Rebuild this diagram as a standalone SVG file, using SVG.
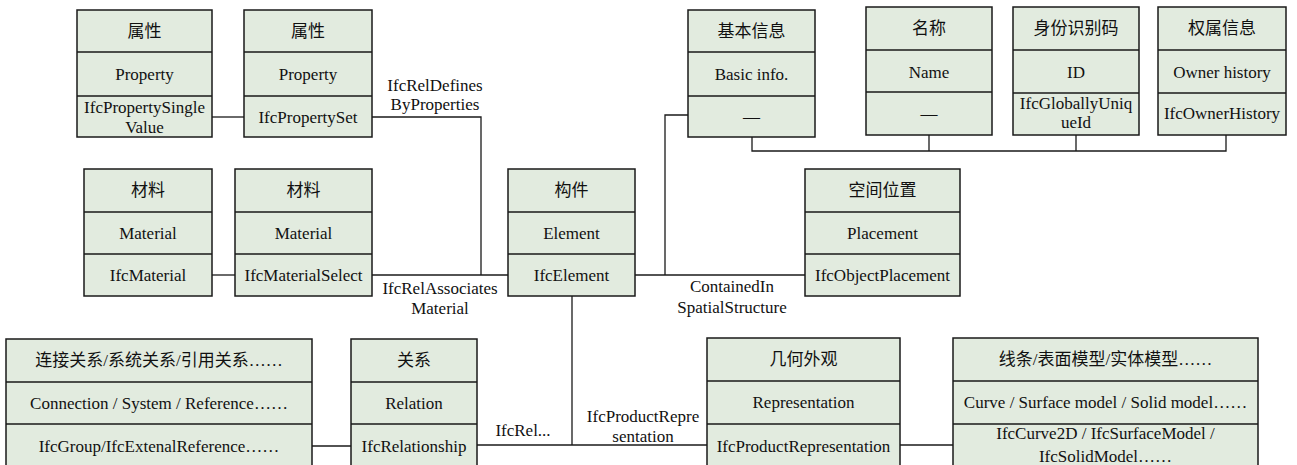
<svg xmlns="http://www.w3.org/2000/svg" width="1297" height="465" viewBox="0 0 1297 465">
<style>
.box{fill:#e2ebdf;stroke:#1a1a1a;stroke-width:1.5}
.div{stroke:#1a1a1a;stroke-width:1.5}
.c{fill:none;stroke:#1a1a1a;stroke-width:1.3}
text{font-family:"Liberation Serif","Noto Sans CJK SC",serif;font-size:17px;fill:#111;text-anchor:middle}
</style>
<rect width="1297" height="465" fill="#fff"/>
<g id="connectors">
<path class="c" d="M212,117H244"/>
<path class="c" d="M372,117H481V275"/>
<path class="c" d="M212,275H235"/>
<path class="c" d="M372,275H508"/>
<path class="c" d="M635,275H805"/>
<path class="c" d="M665,275V115H688"/>
<path class="c" d="M752,137V151H1226V135"/>
<path class="c" d="M929,135V151"/>
<path class="c" d="M1076,135V151"/>
<path class="c" d="M572,296V445"/>
<path class="c" d="M312,446H351"/>
<path class="c" d="M477,445H707"/>
<path class="c" d="M900,445H953"/>
<text x="435" y="91">IfcRelDefines</text>
<text x="435" y="110">ByProperties</text>
<text x="440" y="294">IfcRelAssociates</text>
<text x="440" y="314">Material</text>
<text x="732" y="292">ContainedIn</text>
<text x="732" y="313">SpatialStructure</text>
<text x="523" y="436">IfcRel...</text>
<text x="643" y="422">IfcProductRepre</text>
<text x="643" y="442">sentation</text>
</g>
<g id="prop1">
<rect class="box" x="77" y="10" width="135" height="127"/>
<path class="div" d="M77,52H212M77,96H212"/>
<text x="144.5" y="37">属性</text>
<text x="144.5" y="80">Property</text>
<text x="144.5" y="113">IfcPropertySingle</text>
<text x="144.5" y="133">Value</text>
</g>
<g id="prop2">
<rect class="box" x="244" y="10" width="128" height="127"/>
<path class="div" d="M244,52H372M244,96H372"/>
<text x="308" y="37">属性</text>
<text x="308" y="80">Property</text>
<text x="308" y="123">IfcPropertySet</text>
</g>
<g id="basic">
<rect class="box" x="688" y="10" width="127" height="127"/>
<path class="div" d="M688,52H815M688,96H815"/>
<text x="751.5" y="37">基本信息</text>
<text x="751.5" y="80">Basic info.</text>
<text x="751.5" y="122">—</text>
</g>
<g id="name">
<rect class="box" x="866" y="7" width="126" height="128"/>
<path class="div" d="M866,50H992M866,92H992"/>
<text x="929" y="34">名称</text>
<text x="929" y="78">Name</text>
<text x="929" y="119">—</text>
</g>
<g id="id">
<rect class="box" x="1013" y="7" width="126" height="128"/>
<path class="div" d="M1013,50H1139M1013,93H1139"/>
<text x="1076" y="34">身份识别码</text>
<text x="1076" y="78">ID</text>
<text x="1076" y="109">IfcGloballyUniq</text>
<text x="1076" y="128">ueId</text>
</g>
<g id="owner">
<rect class="box" x="1158" y="7" width="128" height="128"/>
<path class="div" d="M1158,50H1286M1158,93H1286"/>
<text x="1222" y="34">权属信息</text>
<text x="1222" y="78">Owner history</text>
<text x="1222" y="119">IfcOwnerHistory</text>
</g>
<g id="mat1">
<rect class="box" x="84" y="169" width="128" height="127"/>
<path class="div" d="M84,212H212M84,254H212"/>
<text x="148" y="196">材料</text>
<text x="148" y="239">Material</text>
<text x="148" y="281">IfcMaterial</text>
</g>
<g id="mat2">
<rect class="box" x="235" y="169" width="137" height="127"/>
<path class="div" d="M235,212H372M235,254H372"/>
<text x="303.5" y="196">材料</text>
<text x="303.5" y="239">Material</text>
<text x="303.5" y="281">IfcMaterialSelect</text>
</g>
<g id="element">
<rect class="box" x="508" y="169" width="127" height="127"/>
<path class="div" d="M508,212H635M508,254H635"/>
<text x="571.5" y="196">构件</text>
<text x="571.5" y="239">Element</text>
<text x="571.5" y="281">IfcElement</text>
</g>
<g id="placement">
<rect class="box" x="805" y="169" width="155" height="127"/>
<path class="div" d="M805,212H960M805,254H960"/>
<text x="882.5" y="196">空间位置</text>
<text x="882.5" y="239">Placement</text>
<text x="882.5" y="281">IfcObjectPlacement</text>
</g>
<g id="connection">
<rect class="box" x="6" y="339" width="306" height="135"/>
<path class="div" d="M6,382H312M6,424H312"/>
<text x="159" y="366">连接关系/系统关系/引用关系……</text>
<text x="159" y="409">Connection / System / Reference……</text>
<text x="159" y="452">IfcGroup/IfcExtenalReference……</text>
</g>
<g id="relation">
<rect class="box" x="351" y="339" width="126" height="135"/>
<path class="div" d="M351,382H477M351,424H477"/>
<text x="414" y="366">关系</text>
<text x="414" y="409">Relation</text>
<text x="414" y="452">IfcRelationship</text>
</g>
<g id="representation">
<rect class="box" x="707" y="338" width="193" height="135"/>
<path class="div" d="M707,381H900M707,424H900"/>
<text x="803.5" y="365">几何外观</text>
<text x="803.5" y="408">Representation</text>
<text x="803.5" y="452">IfcProductRepresentation</text>
</g>
<g id="geometry">
<rect class="box" x="953" y="338" width="305" height="135"/>
<path class="div" d="M953,381H1258M953,424H1258"/>
<text x="1105.5" y="365">线条/表面模型/实体模型……</text>
<text x="1105.5" y="408">Curve / Surface model / Solid model……</text>
<text x="1105.5" y="439">IfcCurve2D / IfcSurfaceModel /</text>
<text x="1105.5" y="462">IfcSolidModel……</text>
</g>
</svg>
